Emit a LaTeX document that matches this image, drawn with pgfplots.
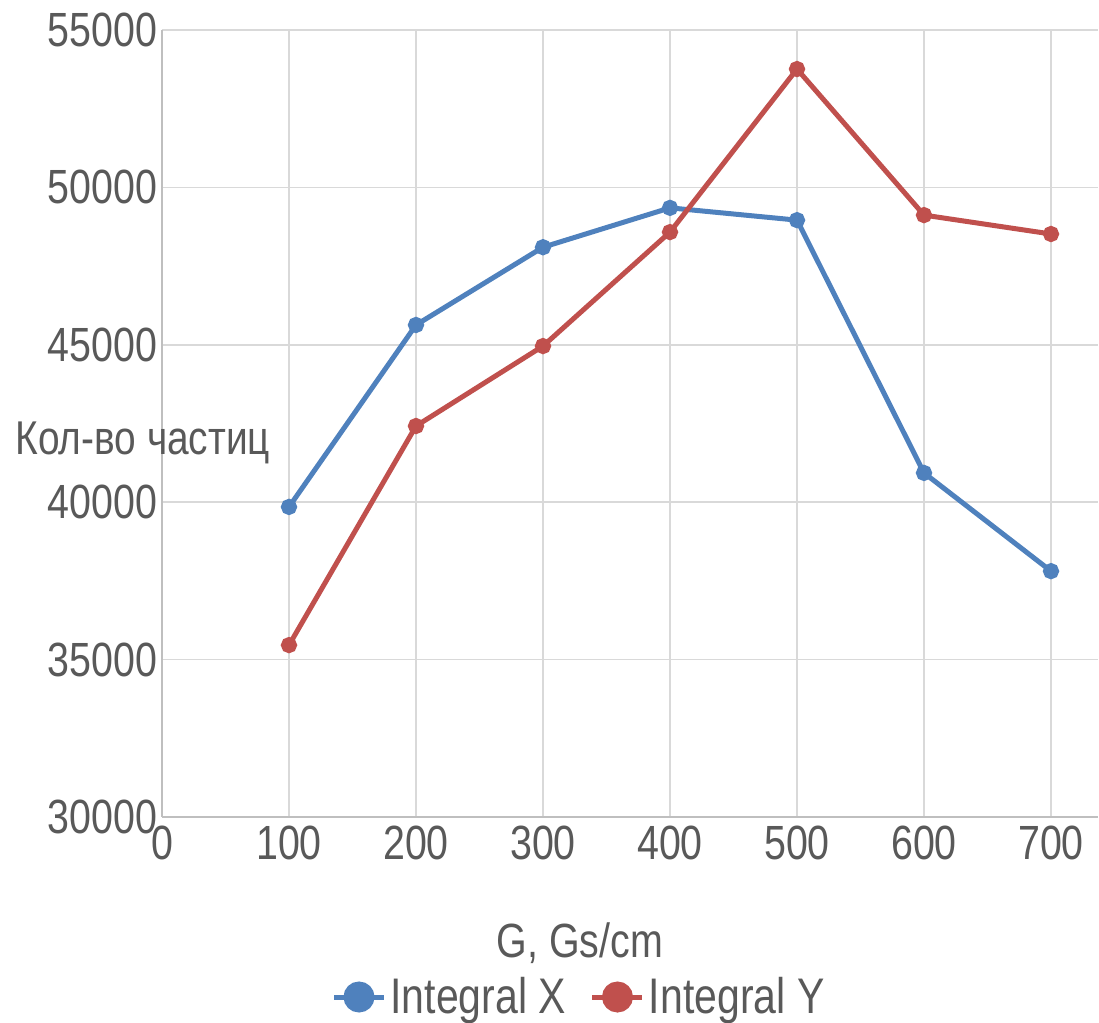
\documentclass[border=0pt]{standalone}
\usepackage{pgfplots}
\pgfplotsset{compat=1.18}
\usepackage{fontspec}
\setmainfont{Liberation Sans}[FakeStretch=0.82]
\definecolor{txt}{HTML}{595959}
\definecolor{gridc}{HTML}{D9D9D9}
\definecolor{axc}{HTML}{BFBFBF}
\definecolor{bl}{HTML}{4F81BD}
\definecolor{rd}{HTML}{C0504D}
\begin{document}
\begin{tikzpicture}
\useasboundingbox (-81pt,-103pt) rectangle (468.5pt,408.5pt);
\begin{axis}[
  at={(0,0)}, anchor=south west,
  scale only axis, width=468pt, height=393.5pt,
  xmin=0, xmax=737, ymin=30000, ymax=55000,
  xtick={0,100,...,700}, ytick={30000,35000,...,55000},
  scaled y ticks=false, scaled x ticks=false,
  grid=major, major grid style={gridc, line width=0.8pt},
  axis x line*=bottom, axis y line*=left,
  axis line style={axc, line width=0.8pt, -},
  tick style={draw=none},
  /pgf/number format/assume math mode=true,
  /pgf/number format/1000 sep={},
  ticklabel style={font=\fontsize{24}{28}\selectfont, text=txt},
  yticklabel style={xshift=1pt},
  xticklabel style={yshift=-1pt},
  clip=false,
  legend style={at={(209pt,-90pt)}, anchor=center, draw=none, fill=none,
    legend columns=2, font=\fontsize{25}{29}\selectfont, text=txt,
    /tikz/every even column/.append style={column sep=10pt}},
  legend image code/.code={
    \draw[#1, line width=2.5pt] (0pt,0pt) -- (25pt,0pt);
    \fill[#1] (12.5pt,0pt) circle (6.5pt);
  },
]
\addplot[bl, line width=2.5pt, mark=*, mark size=2.8pt, mark options={solid}] coordinates {
(100,39850) (200,45630) (300,48100) (400,49350) (500,48960) (600,40930) (700,37810)};
\addlegendentry{Integral X}
\addplot[rd, line width=2.5pt, mark=*, mark size=2.8pt, mark options={solid}] coordinates {
(100,35460) (200,42420) (300,44960) (400,48580) (500,53760) (600,49120) (700,48520)};
\addlegendentry{Integral Y}
\end{axis}
\node[anchor=center, text=txt, font=\fontsize{24}{28}\selectfont] at (209pt,-63pt) {G, Gs/cm};
\node[anchor=west, text=txt, font=\fontsize{23.7}{28}\selectfont, inner sep=0pt] at (-73.5pt,187pt) {Кол-во частиц};
\end{tikzpicture}
\end{document}
